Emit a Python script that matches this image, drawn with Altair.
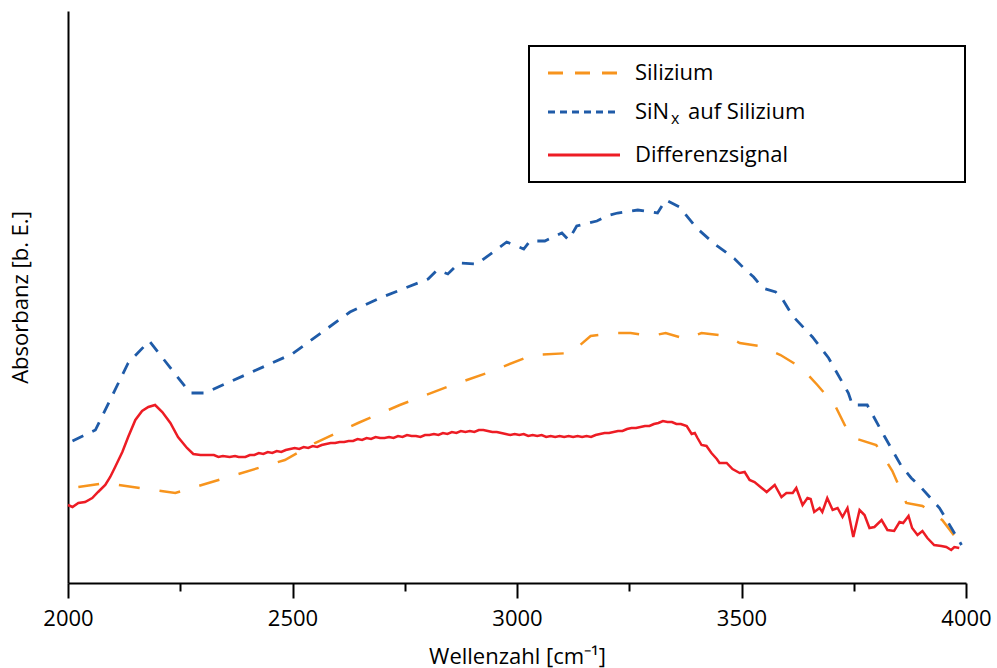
import altair as alt
import pandas as pd

# ---- data (wavenumber in cm^-1, absorbance in arbitrary units) ----
wn_si = [2023, 2083, 2239, 2372, 2483, 2550, 2646, 2739, 2844, 2933, 3035, 3120, 3164, 3213, 3253,
         3298, 3331, 3376, 3411, 3465, 3496, 3540, 3587, 3634, 3669, 3709, 3743, 3800, 3836, 3867,
         3903, 3947, 3990]
abs_si = [0.96, 1.00, 0.90, 1.08, 1.23, 1.40, 1.60, 1.78, 1.96, 2.10, 2.28, 2.30, 2.47, 2.50, 2.50,
          2.47, 2.50, 2.44, 2.50, 2.47, 2.40, 2.37, 2.28, 2.15, 1.98, 1.77, 1.46, 1.38, 1.12, 0.80,
          0.77, 0.63, 0.38]

wn_sinx = [2010, 2061, 2134, 2181, 2272, 2305, 2499, 2628, 2695, 2802, 2822, 2846, 2871, 2911, 2977,
           3015, 3029, 3062, 3100, 3115, 3133, 3178, 3200, 3224, 3269, 3313, 3331, 3362, 3400, 3440,
           3465, 3485, 3505, 3527, 3547, 3576, 3591, 3614, 3658, 3694, 3738, 3747, 3780, 3818, 3856,
           3878, 3901, 3941, 3990]
abs_sinx = [1.42, 1.53, 2.20, 2.42, 1.90, 1.90, 2.29, 2.71, 2.85, 3.04, 3.13, 3.09, 3.20, 3.19, 3.41,
            3.34, 3.42, 3.42, 3.50, 3.43, 3.57, 3.62, 3.67, 3.70, 3.73, 3.70, 3.83, 3.76, 3.55, 3.39,
            3.31, 3.24, 3.15, 3.06, 2.95, 2.91, 2.84, 2.67, 2.46, 2.25, 1.90, 1.78, 1.78, 1.47, 1.17,
            1.05, 0.95, 0.75, 0.38]

# Differenzsignal: rising edge, peak, flat noisy plateau, noisy decay
wn_diff_a = [2000, 2010, 2023, 2038, 2054, 2067, 2083, 2094, 2105, 2121,
             2134, 2150, 2165, 2179, 2194, 2210, 2228, 2245, 2265, 2279]
abs_diff_a = [0.78, 0.76, 0.80, 0.81, 0.85, 0.91, 0.98, 1.06, 1.16, 1.31,
              1.46, 1.63, 1.72, 1.76, 1.78, 1.71, 1.60, 1.46, 1.35, 1.29]

wn_diff_b = [2295, 2310, 2325, 2335, 2345, 2360, 2372, 2380, 2395, 2405,
             2415, 2425, 2435, 2445, 2455, 2465, 2475, 2485, 2495, 2505,
             2515, 2525, 2535, 2545, 2555, 2565, 2575, 2585, 2595, 2605,
             2615, 2625, 2635, 2645, 2655, 2665, 2675, 2685, 2695, 2705,
             2715, 2725, 2735, 2745, 2755, 2765, 2775, 2785, 2795, 2805,
             2815, 2825, 2835, 2845, 2855, 2865, 2875, 2885, 2895, 2905,
             2915, 2925, 2935, 2945, 2955, 2965, 2975, 2985, 2995, 3005,
             3015, 3025, 3035, 3045, 3055, 3065, 3075, 3085, 3095, 3105,
             3115, 3125, 3135, 3145, 3155, 3165, 3175, 3185, 3195, 3205,
             3215, 3225, 3235, 3245, 3255, 3265, 3275, 3285, 3295, 3305,
             3315, 3325, 3335, 3345, 3355, 3365, 3378]
abs_diff_b = [1.28, 1.28, 1.28, 1.26, 1.27, 1.26, 1.27, 1.26, 1.26, 1.28,
              1.28, 1.30, 1.29, 1.31, 1.30, 1.32, 1.31, 1.33, 1.34, 1.35,
              1.34, 1.36, 1.35, 1.37, 1.36, 1.38, 1.39, 1.40, 1.40, 1.41,
              1.41, 1.42, 1.42, 1.44, 1.43, 1.45, 1.44, 1.46, 1.45, 1.45,
              1.46, 1.45, 1.47, 1.46, 1.48, 1.47, 1.47, 1.46, 1.48, 1.48,
              1.49, 1.48, 1.50, 1.49, 1.51, 1.50, 1.52, 1.51, 1.52, 1.51,
              1.53, 1.53, 1.52, 1.51, 1.51, 1.50, 1.49, 1.48, 1.49, 1.48,
              1.49, 1.47, 1.48, 1.47, 1.48, 1.46, 1.47, 1.46, 1.47, 1.46,
              1.47, 1.46, 1.47, 1.46, 1.47, 1.46, 1.48, 1.49, 1.50, 1.50,
              1.51, 1.52, 1.52, 1.54, 1.55, 1.55, 1.56, 1.57, 1.57, 1.59,
              1.60, 1.62, 1.61, 1.61, 1.59, 1.59, 1.57]

wn_diff_c = [3389, 3396, 3402, 3411, 3422, 3433, 3445, 3451, 3467, 3480,
             3496, 3507, 3518, 3529, 3545, 3556, 3574, 3589, 3600, 3614,
             3622, 3636, 3647, 3654, 3662, 3674, 3680, 3691, 3703, 3714,
             3725, 3736, 3749, 3763, 3774, 3785, 3796, 3812, 3825, 3840,
             3852, 3860, 3872, 3880, 3892, 3903, 3914, 3929, 3945, 3956,
             3967, 3974, 3985]
abs_diff_c = [1.49, 1.50, 1.45, 1.38, 1.37, 1.30, 1.24, 1.20, 1.20, 1.14,
              1.10, 1.11, 1.03, 1.01, 0.95, 0.91, 0.98, 0.86, 0.90, 0.90,
              0.95, 0.78, 0.85, 0.84, 0.71, 0.75, 0.71, 0.85, 0.73, 0.75,
              0.66, 0.75, 0.46, 0.73, 0.68, 0.55, 0.56, 0.63, 0.53, 0.52,
              0.61, 0.60, 0.67, 0.55, 0.48, 0.52, 0.45, 0.38, 0.37, 0.36,
              0.33, 0.36, 0.35]

series_names = ["Silizium", "SiN", "x", "auf Silizium", "Differenzsignal"]
series_colors = ["#F7941D", "#1F5BA8", "#ED1C24"]
x_ticks = [2000, 2250, 2500, 2750, 3000, 3250, 3500, 3750, 4000]

FONT = "Open Sans"

df_si = pd.DataFrame({"wn": wn_si, "a": abs_si})
df_sinx = pd.DataFrame({"wn": wn_sinx, "a": abs_sinx})
df_diff = pd.DataFrame({"wn": wn_diff_a + wn_diff_b + wn_diff_c,
                        "a": abs_diff_a + abs_diff_b + abs_diff_c})

x_enc = alt.X(
    "wn:Q",
    scale=alt.Scale(domain=[2000, 4000], nice=False, zero=False),
    axis=alt.Axis(
        values=x_ticks,
        format="d",
        labelExpr="datum.value % 500 === 0 ? datum.label : ''",
        tickSize={"condition": {"test": "datum.value % 500 === 0", "value": 15}, "value": 8},
        tickColor="black",
        tickWidth=2,
        domainColor="black",
        domainWidth=2,
        labelFont=FONT,
        labelFontSize=22,
        labelColor="black",
        labelPadding=10,
        labelFlush=False,
        grid=False,
        title="Wellenzahl [cm⁻¹]",
        titleFont=FONT,
        titleFontSize=22,
        titleFontWeight="normal",
        titleColor="black",
        titlePadding=17,
    ),
)
y_enc = alt.Y(
    "a:Q",
    scale=alt.Scale(domain=[0, 5.72], nice=False, zero=False),
    axis=alt.Axis(
        ticks=False,
        labels=False,
        grid=False,
        domainColor="black",
        domainWidth=2,
        title="Absorbanz [b. E.]",
        titleFont=FONT,
        titleFontSize=22,
        titleFontWeight="normal",
        titleColor="black",
        titlePadding=36,
    ),
)

line_si = alt.Chart(df_si).mark_line(
    color=series_colors[0], strokeWidth=2.5, strokeDash=[21, 20]
).encode(x=x_enc, y=y_enc)
line_sinx = alt.Chart(df_sinx).mark_line(
    color=series_colors[1], strokeWidth=2.8, strokeDash=[12, 10]
).encode(x=x_enc, y=y_enc)
line_diff = alt.Chart(df_diff).mark_line(
    color=series_colors[2], strokeWidth=2.5
).encode(x=x_enc, y=y_enc)

# ---- hand-built legend box ----
one = pd.DataFrame({"k": [0]})
box = alt.Chart(one).mark_rect(fill="white", stroke="black", strokeWidth=2).encode(
    x=alt.value(461), x2=alt.value(897), y=alt.value(35), y2=alt.value(171)
)
legend_layers = [box]
row_y = [62, 101, 144]
dashes = [[15, 12], [7, 5], None]
for col, ry, dash in zip(series_colors, row_y, dashes):
    kw = dict(color=col, strokeWidth=2.8)
    if dash is not None:
        kw["strokeDash"] = dash
    legend_layers.append(
        alt.Chart(one).mark_rule(**kw).encode(
            x=alt.value(480), x2=alt.value(552), y=alt.value(ry)
        )
    )


def legend_text(txt, x, y, size=22):
    return alt.Chart(one).mark_text(
        text=txt, align="left", baseline="middle", font=FONT, fontSize=size, color="black"
    ).encode(x=alt.value(x), y=alt.value(y))


legend_layers += [
    legend_text(series_names[0], 567, row_y[0]),
    legend_text(series_names[1], 567, row_y[1]),
    legend_text(series_names[2], 603, row_y[1] + 7, size=16),
    legend_text(series_names[3], 620, row_y[1]),
    legend_text(series_names[4], 567, row_y[2]),
]

chart = alt.layer(line_si, line_sinx, line_diff, *legend_layers).properties(
    width=898,
    height=572,
    autosize=alt.AutoSizeParams(type="none"),
    padding={"left": 68, "top": 11, "right": 31, "bottom": 85},
    background="white",
).configure_view(stroke=None)

chart.save("out.html", embed_options={"renderer": "svg", "actions": False})
